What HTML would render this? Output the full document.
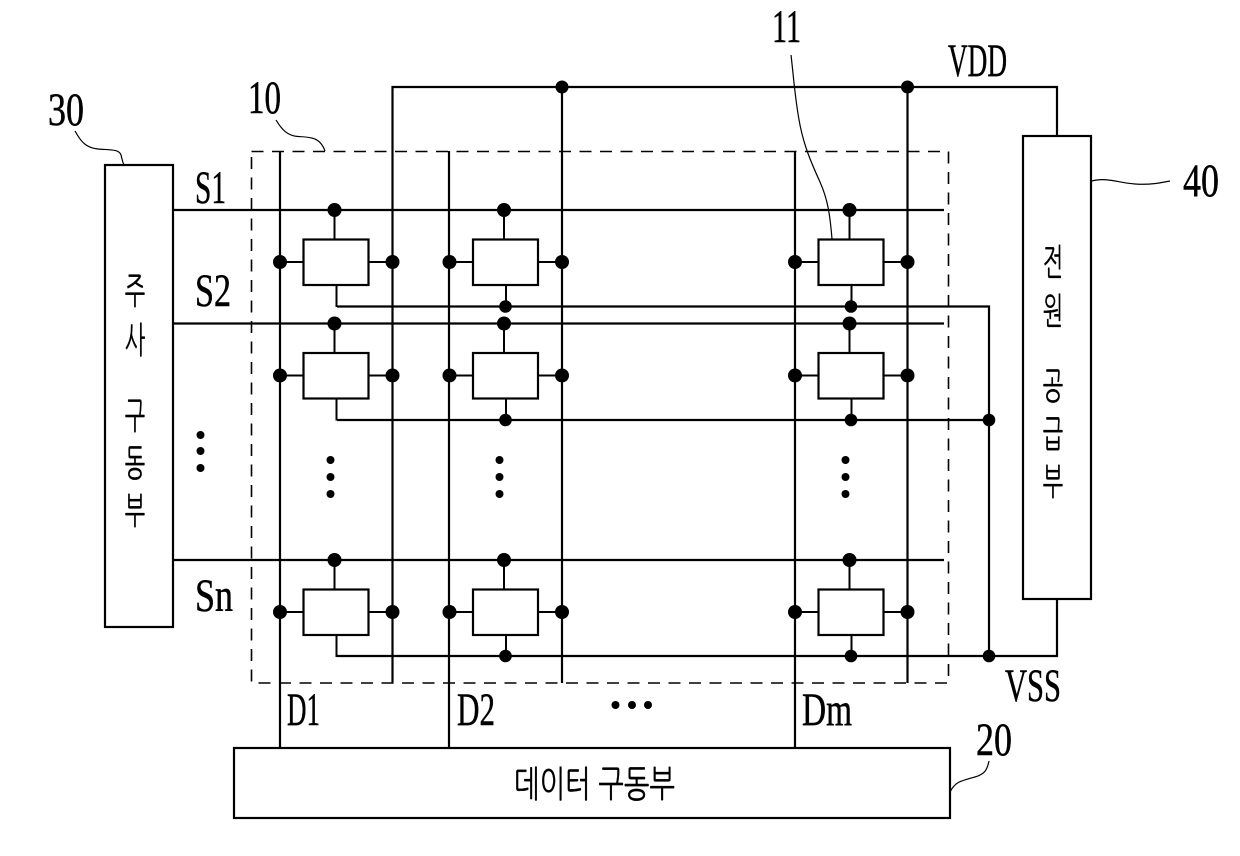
<!DOCTYPE html>
<html lang="ko">
<head>
<meta charset="utf-8">
<title>Diagram</title>
<style>
html,body{margin:0;padding:0;background:#fff;}
svg{display:block;}
text{font-family:"Liberation Serif","Noto Serif CJK SC",serif;fill:#000;}
.l text{stroke:#000;stroke-width:.5px;}
.k{font-family:"Liberation Sans","NanumGothic","Noto Sans CJK KR",sans-serif;font-size:32px;text-anchor:middle;stroke:#000;stroke-width:.3px;}
</style>
</head>
<body>
<svg xmlns="http://www.w3.org/2000/svg" width="1240" height="856" viewBox="0 0 1240 856">
<rect width="1240" height="856" fill="#fff"/>
<defs>
<g id="cell">
<path d="M31 -29V0M33 45.5V67.5M-23 22.5H0M65 22.5H89" fill="none" stroke="#000" stroke-width="2"/>
<rect x="0" y="0" width="65" height="45.5" fill="#fff" stroke="#000" stroke-width="2.2"/>
<circle cx="31" cy="-29.5" r="7"/>
<circle cx="-23.500" cy="22.5" r="7"/>
<circle cx="89" cy="22.5" r="7"/>
</g>
</defs>

<!-- dashed panel -->
<rect x="251.5" y="151.5" width="697" height="531.5" fill="none" stroke="#000" stroke-width="1.6" stroke-dasharray="12 8.5"/>

<!-- main lines -->
<g fill="none" stroke="#000" stroke-width="2.2">
<path d="M280 151V748M449 151V748M795 151V748"/>
<path d="M392.5 683V87H1057V136M562 87V683M907.5 87V683"/>
<path d="M173 210H944M173 323.5H944M173 560H944"/>
<path d="M337 306.5H989V656M337 420H989M337 656H1057V599"/>
</g>

<!-- pixel cells -->
<use href="#cell" x="303.5" y="239.5"/>
<use href="#cell" x="473" y="239.5"/>
<use href="#cell" x="818.5" y="239.5"/>
<use href="#cell" x="303.5" y="353"/>
<use href="#cell" x="473" y="353"/>
<use href="#cell" x="818.5" y="353"/>
<use href="#cell" x="303.5" y="589.5"/>
<use href="#cell" x="473" y="589.5"/>
<use href="#cell" x="818.5" y="589.5"/>

<!-- junction dots -->
<g>
<circle cx="562" cy="87" r="6.5"/>
<circle cx="907.5" cy="87" r="6.5"/>
<circle cx="505.5" cy="306.5" r="6.3"/>
<circle cx="851" cy="306.5" r="6.3"/>
<circle cx="505.5" cy="420" r="6.3"/>
<circle cx="851" cy="420" r="6.3"/>
<circle cx="505.5" cy="656" r="6.3"/>
<circle cx="851" cy="656" r="6.3"/>
<circle cx="989" cy="420" r="6.3"/>
<circle cx="989" cy="656" r="6.3"/>
<!-- ellipses -->
<circle cx="200.5" cy="435" r="4"/><circle cx="200.5" cy="451" r="4"/><circle cx="200.5" cy="468" r="4"/>
<circle cx="330.5" cy="460" r="4"/><circle cx="330.5" cy="477" r="4"/><circle cx="330.5" cy="494" r="4"/>
<circle cx="499.5" cy="460" r="4"/><circle cx="499.5" cy="477" r="4"/><circle cx="499.5" cy="494" r="4"/>
<circle cx="845.5" cy="460" r="4"/><circle cx="845.5" cy="477" r="4"/><circle cx="845.5" cy="494" r="4"/>
<circle cx="615.5" cy="705" r="4"/><circle cx="632" cy="705" r="4"/><circle cx="648" cy="705" r="4"/>
</g>

<!-- blocks -->
<g fill="#fff" stroke="#000" stroke-width="2.2">
<rect x="105" y="165" width="68" height="462"/>
<rect x="1023" y="136" width="68" height="463"/>
<rect x="234" y="748" width="716" height="70"/>
</g>

<!-- leader lines -->
<g fill="none" stroke="#000" stroke-width="1.2">
<path d="M75 131C82 144 88 148 98 149C110 150 119 149 121 155C122 158 122 161 124 165"/>
<path d="M276 120C282 130 288 136 298 136.5C310 137 320 137 325 151"/>
<path d="M791 55C794 80 795 100 800 125C804 145 810 160 820 182C828 200 830 215 832 239"/>
<path d="M1092 181C1105 177 1120 183 1135 184C1150 185 1160 183 1170 181"/>
<path d="M989 761C987 770 985 774 975 777C960 781 955 782 950 792"/>
</g>

<!-- numeric and signal labels -->
<g class="l" font-size="47">
<text x="48" y="125" textLength="36" lengthAdjust="spacingAndGlyphs">30</text>
<text x="248" y="113" textLength="33" lengthAdjust="spacingAndGlyphs">10</text>
<text x="772" y="42" textLength="29" lengthAdjust="spacingAndGlyphs">11</text>
<text x="1183" y="196" textLength="36" lengthAdjust="spacingAndGlyphs">40</text>
<text x="976" y="755" textLength="36" lengthAdjust="spacingAndGlyphs">20</text>
<text x="948" y="76" textLength="59" lengthAdjust="spacingAndGlyphs">VDD</text>
<text x="1005" y="701" textLength="56" lengthAdjust="spacingAndGlyphs">VSS</text>
<text x="195" y="203" textLength="31" lengthAdjust="spacingAndGlyphs">S1</text>
<text x="195" y="306" textLength="36" lengthAdjust="spacingAndGlyphs">S2</text>
<text x="195" y="611" textLength="38" lengthAdjust="spacingAndGlyphs">Sn</text>
<text x="287" y="725" textLength="33" lengthAdjust="spacingAndGlyphs">D1</text>
<text x="457" y="725" textLength="38" lengthAdjust="spacingAndGlyphs">D2</text>
<text x="802" y="725" textLength="50" lengthAdjust="spacingAndGlyphs">Dm</text>
</g>

<!-- Korean labels -->
<g>
<text class="k" transform="translate(135,304) scale(.68,1.15)">주</text>
<text class="k" transform="translate(135,353) scale(.68,1.15)">사</text>
<text class="k" transform="translate(135,429) scale(.68,1.15)">구</text>
<text class="k" transform="translate(135,476) scale(.68,1.15)">동</text>
<text class="k" transform="translate(135,524) scale(.68,1.15)">부</text>
<text class="k" transform="translate(1053,275) scale(.68,1.15)">전</text>
<text class="k" transform="translate(1053,324) scale(.68,1.15)">원</text>
<text class="k" transform="translate(1053,399) scale(.68,1.15)">공</text>
<text class="k" transform="translate(1053,447) scale(.68,1.15)">급</text>
<text class="k" transform="translate(1053,495) scale(.68,1.15)">부</text>
<text class="k" transform="translate(594.5,797) scale(1,1.15)" textLength="161" lengthAdjust="spacingAndGlyphs">데이터 구동부</text>
</g>
</svg>
</body>
</html>
